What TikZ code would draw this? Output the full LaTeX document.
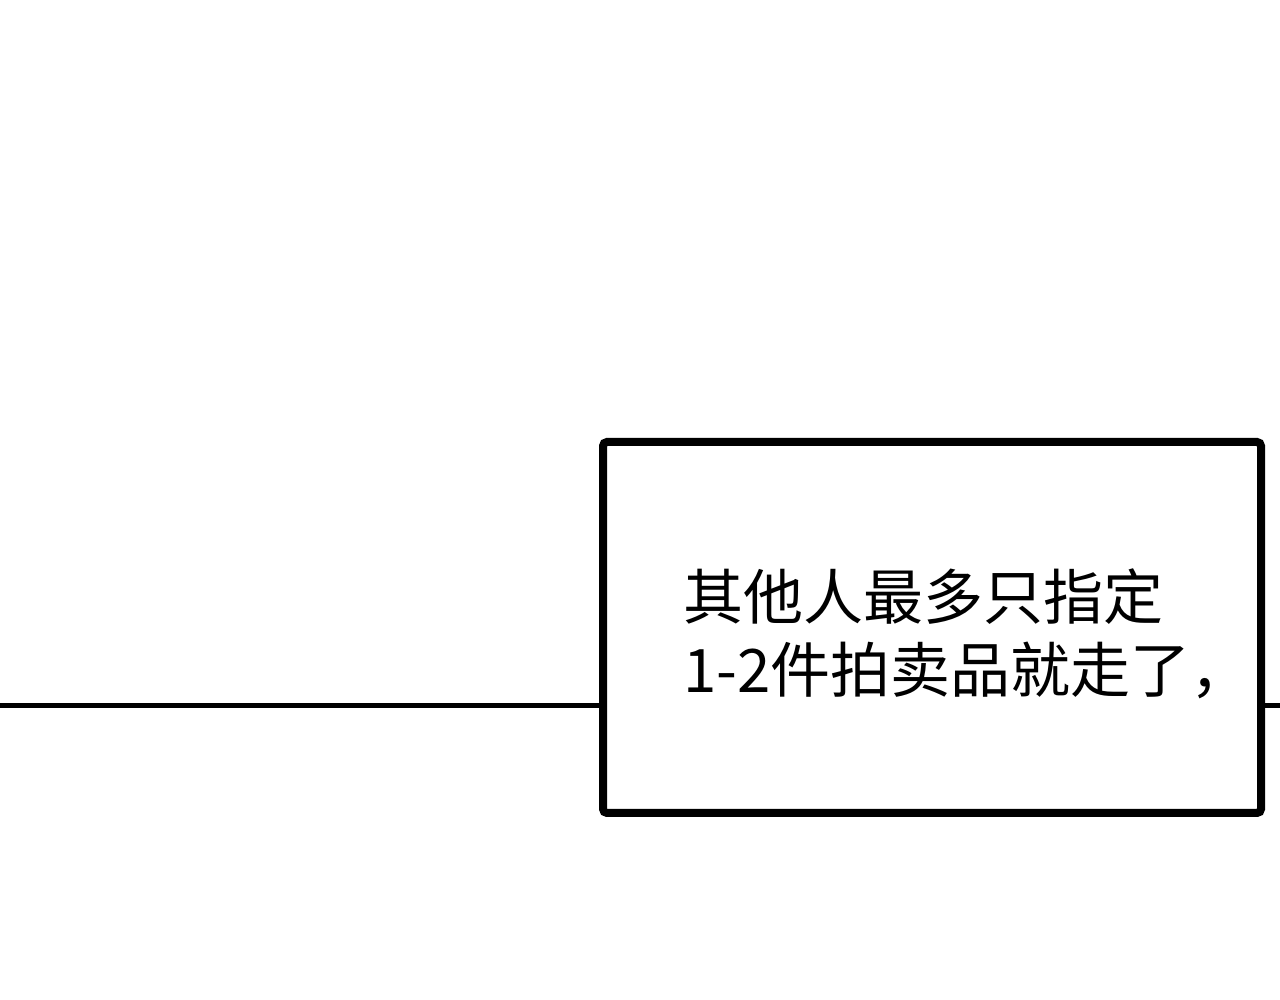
\documentclass[tikz,border=0pt]{standalone}
\usepackage{fontspec}
\newfontfamily\cjk{Noto Sans CJK SC}
\begin{document}
\begin{tikzpicture}[x=1pt,y=1pt,
  box/.style={draw=black,line width=8pt,rounded corners=4pt,fill=white},
  wire/.style={draw=black,line width=5pt}]
\useasboundingbox (0,0) rectangle (1280,1000);
\coordinate (L) at (0,294);
\coordinate (R) at (1280,294);
\node[box,minimum width=658pt,minimum height=371pt,inner sep=0pt] (b) at (932,372.5) {};
\draw[wire] (L) -- (L -| b.west);
\draw[wire] (R -| b.east) -- (R);
\node[anchor=north west,inner sep=0pt,align=left,font=\cjk\fontsize{60}{73}\selectfont] (t) at (683,432) {其他人最多只指定\\1-2件拍卖品就走了，};
\end{tikzpicture}
\end{document}
